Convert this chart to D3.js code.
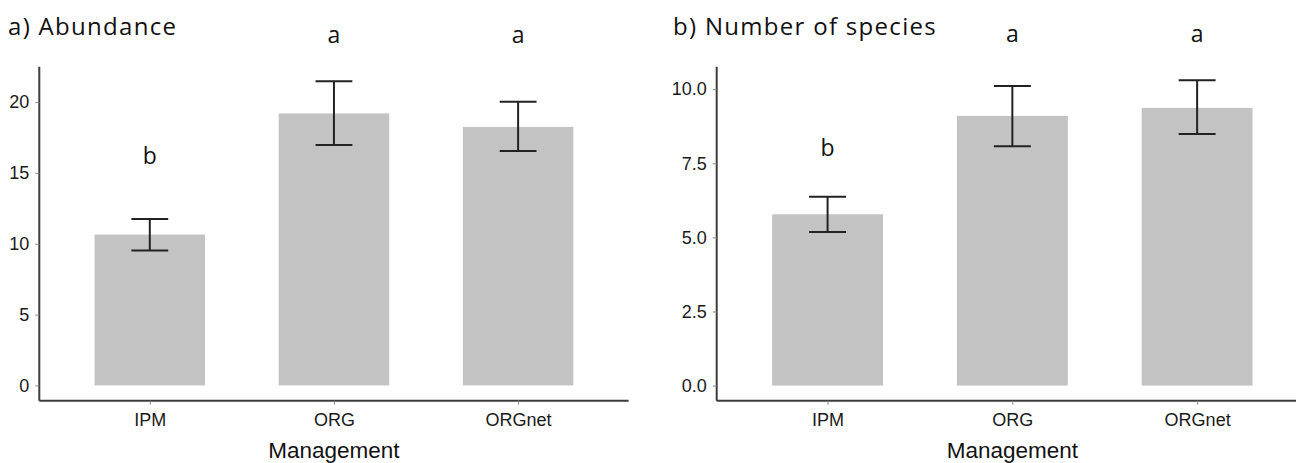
<!DOCTYPE html>
<html>
<head>
<meta charset="utf-8">
<script src="https://cdn.jsdelivr.net/npm/d3@7"></script>
<style>
  body { margin: 0; background: #fff; }
  svg { display: block; }
</style>
</head>
<body>
<svg id="chart" width="1296" height="463"></svg>
<script>
// categorías de manejo
const categories = ["IPM", "ORG", "ORGnet"];

// a) abundancia: media y barras de error
const abundanceMean = [10.65, 19.2, 18.25];
const abundanceLow = [9.53, 16.97, 16.55];
const abundanceHigh = [11.74, 21.48, 20.02];
const abundanceLetters = ["b", "a", "a"];
const abundanceLetterY = [15.65, 24.2, 24.2];
const abundanceTicks = [0, 5, 10, 15, 20];

// b) número de especies
const speciesMean = [5.78, 9.1, 9.37];
const speciesLow = [5.18, 8.08, 8.49];
const speciesHigh = [6.37, 10.11, 10.3];
const speciesLetters = ["b", "a", "a"];
const speciesLetterY = [7.76, 11.59, 11.59];
const speciesTicks = [0, 2.5, 5, 7.5, 10];

const svg = d3.select("#chart");

function drawPanel(p) {
    const top = 66.7, bottom = 400.7;
    const g = svg.append("g");

    const x = d3.scalePoint()
        .domain(categories)
        .range([p.left, p.right])
        .padding(0.6);
    const step = x.step();

    const y = d3.scaleLinear()
        .domain(p.yDomain)
        .range([bottom, top]);

    // barras
    g.selectAll("rect.bar")
        .data(p.mean)
        .join("rect")
        .attr("class", "bar")
        .attr("x", (d, i) => x(categories[i]) - step * 0.3)
        .attr("width", step * 0.6)
        .attr("y", d => y(d))
        .attr("height", d => y(0) - y(d))
        .attr("fill", "#c3c3c3");

    // barras de error
    const eb = g.selectAll("g.err")
        .data(p.mean)
        .join("g")
        .attr("class", "err")
        .attr("stroke", "#222")
        .attr("stroke-width", 2);
    eb.append("line")
        .attr("x1", (d, i) => x(categories[i]))
        .attr("x2", (d, i) => x(categories[i]))
        .attr("y1", (d, i) => y(p.low[i]))
        .attr("y2", (d, i) => y(p.high[i]));
    eb.append("line")
        .attr("x1", (d, i) => x(categories[i]) - step * 0.1)
        .attr("x2", (d, i) => x(categories[i]) + step * 0.1)
        .attr("y1", (d, i) => y(p.high[i]))
        .attr("y2", (d, i) => y(p.high[i]));
    eb.append("line")
        .attr("x1", (d, i) => x(categories[i]) - step * 0.1)
        .attr("x2", (d, i) => x(categories[i]) + step * 0.1)
        .attr("y1", (d, i) => y(p.low[i]))
        .attr("y2", (d, i) => y(p.low[i]));

    // letras de significancia
    g.selectAll("text.letter")
        .data(p.letters)
        .join("text")
        .attr("class", "letter")
        .attr("x", (d, i) => x(categories[i]))
        .attr("y", (d, i) => y(p.letterY[i]))
        .attr("text-anchor", "middle")
        .attr("font-family", "Open Sans")
        .attr("font-size", 23)
        .attr("fill", "#111")
        .text(d => d);

    // ejes
    const yAxis = g.append("g")
        .attr("transform", `translate(${p.left},0)`)
        .call(d3.axisLeft(y).tickValues(p.ticks).tickFormat(p.fmt).tickSize(4).tickSizeOuter(0).tickPadding(6));
    yAxis.select(".domain").attr("d", `M0,${top}V${bottom}`);

    const xAxis = g.append("g")
        .attr("transform", `translate(0,${bottom})`)
        .call(d3.axisBottom(x).tickSize(4).tickSizeOuter(0).tickPadding(9));
    xAxis.select(".domain").attr("d", `M${p.left},0H${p.right}`);

    g.selectAll(".domain").attr("stroke", "#3c3c3c").attr("stroke-width", 2);
    g.selectAll(".tick line").attr("stroke", "#888").attr("stroke-width", 1);
    g.selectAll(".tick text")
        .attr("font-family", "Liberation Sans")
        .attr("font-size", 18)
        .attr("fill", "#1a1a1a");

    // título del eje x
    g.append("text")
        .attr("x", (p.left + p.right) / 2)
        .attr("y", 458)
        .attr("text-anchor", "middle")
        .attr("font-family", "Liberation Sans")
        .attr("font-size", 22.5)
        .attr("fill", "#111")
        .text("Management");

    // título del panel
    g.append("text")
        .attr("x", p.titleX)
        .attr("y", 35)
        .attr("font-family", "Open Sans")
        .attr("font-size", 24)
        .attr("letter-spacing", 1.3)
        .attr("fill", "#111")
        .text(p.title);
}

drawPanel({
    left: 39.3, right: 628.6,
    yDomain: [-1.08, 22.5],
    mean: abundanceMean, low: abundanceLow, high: abundanceHigh,
    letters: abundanceLetters, letterY: abundanceLetterY,
    ticks: abundanceTicks, fmt: d3.format("d"),
    title: "a) Abundance", titleX: 8
});

drawPanel({
    left: 716.7, right: 1308,
    yDomain: [-0.51, 10.76],
    mean: speciesMean, low: speciesLow, high: speciesHigh,
    letters: speciesLetters, letterY: speciesLetterY,
    ticks: speciesTicks, fmt: d3.format(".1f"),
    title: "b) Number of species", titleX: 673
});
</script>
</body>
</html>
